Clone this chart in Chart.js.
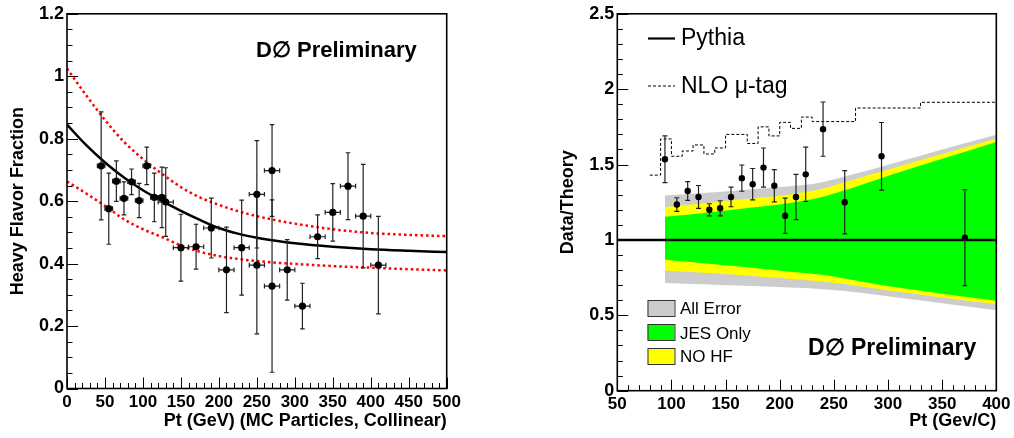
<!DOCTYPE html>
<html>
<head>
<meta charset="utf-8">
<script src="https://cdn.jsdelivr.net/npm/chart.js@4.4.1/dist/chart.umd.min.js"></script>
<style>
body{margin:0;background:#fff;}
#wrap{position:relative;width:1014px;height:438px;}
#hfChart{position:absolute;left:0;top:0;}
#ratioChart{position:absolute;left:507px;top:0;}
</style>
</head>
<body>
<div id="wrap">
<canvas id="hfChart" width="507" height="438"></canvas>
<canvas id="ratioChart" width="507" height="438"></canvas>
</div>
<script>
// --- left panel: heavy flavor fraction ---
const hfPt    = [45, 55, 65, 75, 85, 95, 105, 115, 125, 130, 150, 170, 190, 210, 230, 250, 250, 270, 270, 290, 310, 330, 350, 370, 390, 410];
const hfFrac  = [0.713, 0.576, 0.664, 0.609, 0.662, 0.602, 0.713, 0.612, 0.612, 0.597, 0.451, 0.454, 0.514, 0.380, 0.451, 0.622, 0.395, 0.698, 0.328, 0.380, 0.264, 0.486, 0.564, 0.648, 0.552, 0.395];
const hfErr   = [0.173, 0.114, 0.065, 0.053, 0.041, 0.055, 0.060, 0.078, 0.097, 0.110, 0.107, 0.072, 0.096, 0.137, 0.152, 0.172, 0.220, 0.147, 0.276, 0.097, 0.073, 0.070, 0.092, 0.107, 0.166, 0.156];
const hfPtErr = [5, 5, 5, 5, 5, 5, 5, 5, 5, 10, 10, 10, 10, 10, 10, 10, 10, 10, 10, 10, 10, 10, 10, 10, 10, 10];

const fitPt    = [0, 25, 50, 75, 100, 125, 150, 175, 200, 225, 250, 275, 300, 350, 400, 450, 500];
const fitVal   = [0.845, 0.780, 0.724, 0.676, 0.635, 0.601, 0.569, 0.540, 0.514, 0.496, 0.483, 0.473, 0.465, 0.454, 0.446, 0.441, 0.437];
const fitHiVal = [1.025, 0.940, 0.860, 0.790, 0.735, 0.688, 0.645, 0.612, 0.588, 0.568, 0.552, 0.539, 0.528, 0.510, 0.498, 0.492, 0.488];
const fitLoVal = [0.663, 0.625, 0.585, 0.542, 0.510, 0.485, 0.458, 0.438, 0.424, 0.415, 0.408, 0.403, 0.399, 0.392, 0.387, 0.382, 0.378];

// --- right panel: data / theory ---
const ratioPt  = [94, 105, 115, 125, 135, 145, 155, 165, 175, 185, 195, 205, 215, 224, 240, 260, 294, 371];
const ratioVal = [1.535, 1.235, 1.325, 1.285, 1.200, 1.210, 1.285, 1.410, 1.370, 1.480, 1.360, 1.160, 1.285, 1.435, 1.735, 1.250, 1.555, 1.015];
const ratioErr = [0.155, 0.045, 0.062, 0.076, 0.040, 0.050, 0.065, 0.087, 0.104, 0.130, 0.107, 0.117, 0.150, 0.180, 0.180, 0.210, 0.224, 0.318];

const nloEdge = [80, 90, 100, 110, 120, 130, 140, 150, 170, 180, 190, 200, 210, 220, 230, 270, 330, 400];
const nloVal  = [1.43, 1.67, 1.555, 1.59, 1.63, 1.57, 1.61, 1.70, 1.64, 1.75, 1.69, 1.78, 1.74, 1.815, 1.785, 1.875, 1.913, 1.913];

const pythiaPt  = [50, 400];
const pythiaVal = [1, 1];

const bandPt  = [94, 130, 163, 209, 237, 260, 301, 350, 400];
const allHi   = [1.295, 1.312, 1.330, 1.356, 1.380, 1.420, 1.500, 1.600, 1.697];
const allLo   = [0.715, 0.706, 0.697, 0.684, 0.675, 0.661, 0.625, 0.580, 0.534];
const noHfHi  = [1.218, 1.243, 1.268, 1.302, 1.336, 1.382, 1.469, 1.570, 1.671];
const noHfLo  = [0.797, 0.782, 0.768, 0.742, 0.726, 0.708, 0.665, 0.618, 0.573];
const jesHi   = [1.153, 1.178, 1.205, 1.245, 1.282, 1.330, 1.428, 1.538, 1.650];
const jesLo   = [0.869, 0.846, 0.823, 0.789, 0.770, 0.745, 0.692, 0.643, 0.597];

const FONT = '"Liberation Sans", Arial, Helvetica, sans-serif';
Chart.defaults.color = '#000';
Chart.defaults.font.family = FONT;

function pts(xs, ys){ return xs.map((x, i) => ({x: x, y: ys[i]})); }

// error bars drawn just before the marker dataset
const errorBars = {
    id: 'errorBars',
    beforeDatasetDraw(chart, args){
        const ds = chart.data.datasets[args.index];
        if(!ds.errY) return;
        const ctx = chart.ctx, xs = chart.scales.x, ys = chart.scales.y;
        const cap = ds.capSize || 2.5;
        ctx.save();
        ctx.strokeStyle = '#222';
        ctx.lineWidth = 1.2;
        ds.data.forEach((p, i) => {
            const px = xs.getPixelForValue(p.x), py = ys.getPixelForValue(p.y);
            const top = ys.getPixelForValue(p.y + ds.errY[i]);
            const bot = ys.getPixelForValue(p.y - ds.errY[i]);
            ctx.beginPath();
            ctx.moveTo(px, top); ctx.lineTo(px, bot);
            ctx.moveTo(px - cap, top); ctx.lineTo(px + cap, top);
            ctx.moveTo(px - cap, bot); ctx.lineTo(px + cap, bot);
            if(ds.errX){
                const l = xs.getPixelForValue(p.x - ds.errX[i]);
                const r = xs.getPixelForValue(p.x + ds.errX[i]);
                ctx.moveTo(l, py); ctx.lineTo(r, py);
                ctx.moveTo(l, py - cap); ctx.lineTo(l, py + cap);
                ctx.moveTo(r, py - cap); ctx.lineTo(r, py + cap);
            }
            ctx.stroke();
        });
        ctx.restore();
    }
};

// ROOT style frame with inward ticks
const frameTicks = {
    id: 'frameTicks',
    afterDraw(chart, args, o){
        const ctx = chart.ctx, a = chart.chartArea, xs = chart.scales.x, ys = chart.scales.y;
        ctx.save();
        ctx.strokeStyle = '#000';
        ctx.lineWidth = 1;
        ctx.beginPath();
        for(let v = xs.min; v <= xs.max + 1e-6; v += o.xMinor){
            const px = Math.round(xs.getPixelForValue(v)) + 0.5;
            const major = Math.abs(v / o.xMajor - Math.round(v / o.xMajor)) < 1e-6;
            ctx.moveTo(px, a.bottom); ctx.lineTo(px, a.bottom - (major ? 11 : 5.5));
        }
        for(let v = ys.min; v <= ys.max + 1e-6; v += o.yMinor){
            const py = Math.round(ys.getPixelForValue(v)) + 0.5;
            const major = Math.abs(v / o.yMajor - Math.round(v / o.yMajor)) < 1e-6;
            ctx.moveTo(a.left, py); ctx.lineTo(a.left + (major ? 11 : 5.5), py);
        }
        ctx.stroke();
        ctx.lineWidth = 1.6;
        ctx.strokeRect(a.left, a.top, a.right - a.left, a.bottom - a.top);
        ctx.restore();
    }
};

// free text, legend lines and boxes
const notes = {
    id: 'notes',
    afterDraw(chart, args, o){
        const ctx = chart.ctx;
        ctx.save();
        (o.lines || []).forEach(l => {
            ctx.strokeStyle = '#000';
            ctx.lineWidth = l.width;
            ctx.setLineDash(l.dash || []);
            ctx.beginPath(); ctx.moveTo(l.x1, l.y); ctx.lineTo(l.x2, l.y); ctx.stroke();
        });
        ctx.setLineDash([]);
        (o.boxes || []).forEach(b => {
            ctx.fillStyle = b.color;
            ctx.fillRect(b.x, b.y, b.w, b.h);
            ctx.strokeStyle = '#333'; ctx.lineWidth = 1;
            ctx.strokeRect(b.x + 0.5, b.y + 0.5, b.w, b.h);
        });
        ctx.fillStyle = '#000';
        ctx.textBaseline = 'alphabetic';
        (o.texts || []).forEach(t => {
            ctx.font = t.font;
            ctx.textAlign = t.align || 'left';
            ctx.fillText(t.text, t.x, t.y);
        });
        ctx.restore();
    }
};

const fmt = v => String(+v.toFixed(2));

function axisX(min, max, title, titlePad, tickPad, boxH){
    return {
        type: 'linear', min: min, max: max,
        grid: {display: false, drawTicks: false},
        border: {display: false},
        ticks: {stepSize: 50, autoSkip: false, maxRotation: 0, padding: tickPad,
                font: {size: 17, weight: 'bold'}, callback: fmt},
        title: {display: true, text: title, align: 'end',
                font: {size: 18, weight: 'bold'}, padding: {top: 0, bottom: titlePad}},
        afterFit(s){ s.height = boxH; }
    };
}
function axisY(min, max, step, title, titlePad, boxW){
    return {
        type: 'linear', min: min, max: max,
        grid: {display: false, drawTicks: false},
        border: {display: false},
        ticks: {stepSize: step, autoSkip: false, padding: 3, font: {size: 18, weight: 'bold'}, callback: fmt},
        title: {display: true, text: title, font: {size: 18, weight: 'bold'}, padding: {top: titlePad, bottom: 0}},
        afterFit(s){ s.width = boxW; }
    };
}

// left chart
new Chart(document.getElementById('hfChart'), {
    type: 'line',
    data: {
        datasets: [
            {data: pts(hfPt, hfFrac), showLine: false, pointRadius: 3.6, pointBackgroundColor: '#000',
             pointBorderWidth: 0, errY: hfErr, errX: hfPtErr, capSize: 2.3, order: 0},
            {data: pts(fitPt, fitVal), borderColor: '#000', borderWidth: 2.5, pointRadius: 0,
             cubicInterpolationMode: 'monotone', order: 1},
            {data: pts(fitPt, fitHiVal), borderColor: '#ff0000', borderWidth: 2.5, borderDash: [2.5, 3],
             pointRadius: 0, cubicInterpolationMode: 'monotone', order: 2},
            {data: pts(fitPt, fitLoVal), borderColor: '#ff0000', borderWidth: 2.5, borderDash: [2.5, 3],
             pointRadius: 0, cubicInterpolationMode: 'monotone', order: 2}
        ]
    },
    options: {
        responsive: false, animation: false, devicePixelRatio: 1,
        layout: {padding: {left: 0, right: 60.3, top: 10.5, bottom: 0}},
        scales: {
            x: axisX(0, 500, 'Pt (GeV) (MC Particles, Collinear)', 6, 4, 49.5),
            y: axisY(0, 1.2, 0.2, 'Heavy Flavor Fraction', 7, 67)
        },
        plugins: {
            legend: {display: false}, tooltip: {enabled: false},
            frameTicks: {xMajor: 50, xMinor: 10, yMajor: 0.2, yMinor: 0.05},
            notes: {texts: [{text: 'D\u2205 Preliminary', x: 256, y: 57, font: 'bold 22px ' + FONT}]}
        }
    },
    plugins: [errorBars, frameTicks, notes]
});

// right chart
const band = (ys, color, fill, order) => ({data: pts(bandPt, ys), borderWidth: 0, pointRadius: 0,
    backgroundColor: color, fill: fill, cubicInterpolationMode: 'monotone', order: order});
new Chart(document.getElementById('ratioChart'), {
    type: 'line',
    data: {
        datasets: [
            {data: pts(ratioPt, ratioVal), showLine: false, pointRadius: 3.2, pointBackgroundColor: '#000',
             pointBorderWidth: 0, errY: ratioErr, capSize: 2.5, order: 0},
            {data: pts(pythiaPt, pythiaVal), borderColor: '#000', borderWidth: 2.5, pointRadius: 0, order: 1},
            {data: pts(nloEdge, nloVal), borderColor: '#000', borderWidth: 1, borderDash: [3, 2],
             stepped: true, pointRadius: 0, order: 1},
            band(allHi, '#cccccc', '+1', 12), band(allLo, '#cccccc', false, 12),
            band(noHfHi, '#ffff00', '+1', 11), band(noHfLo, '#ffff00', false, 11),
            band(jesHi, '#00ff00', '+1', 10), band(jesLo, '#00ff00', false, 10)
        ]
    },
    options: {
        responsive: false, animation: false, devicePixelRatio: 1,
        layout: {padding: {left: 0, right: 17.3, top: 9.7, bottom: 0}},
        scales: {
            x: axisX(50, 400, 'Pt (Gev/C)', 6, 3.5, 47.3),
            y: axisY(0, 2.5, 0.5, 'Data/Theory', 50.5, 110.3)
        },
        plugins: {
            legend: {display: false}, tooltip: {enabled: false},
            frameTicks: {xMajor: 50, xMinor: 10, yMajor: 0.5, yMinor: 0.1},
            notes: {
                lines: [{x1: 141, x2: 168, y: 38.5, width: 2.2},
                        {x1: 141, x2: 168, y: 86, width: 1, dash: [3, 2]}],
                boxes: [{x: 140.5, y: 300, w: 27, h: 16, color: '#cccccc'},
                        {x: 140.5, y: 324, w: 27, h: 16, color: '#00ff00'},
                        {x: 140.5, y: 348, w: 27, h: 16, color: '#ffff00'}],
                texts: [{text: 'Pythia', x: 174, y: 45, font: '23px ' + FONT},
                        {text: 'NLO \u03bc-tag', x: 174, y: 93, font: '23px ' + FONT},
                        {text: 'All Error', x: 173, y: 314, font: '17px ' + FONT},
                        {text: 'JES Only', x: 173, y: 338.5, font: '17px ' + FONT},
                        {text: 'NO HF', x: 173, y: 362, font: '17px ' + FONT},
                        {text: 'D\u2205 Preliminary', x: 301, y: 355, font: 'bold 23px ' + FONT}]
            }
        }
    },
    plugins: [errorBars, frameTicks, notes]
});
</script>
</body>
</html>
